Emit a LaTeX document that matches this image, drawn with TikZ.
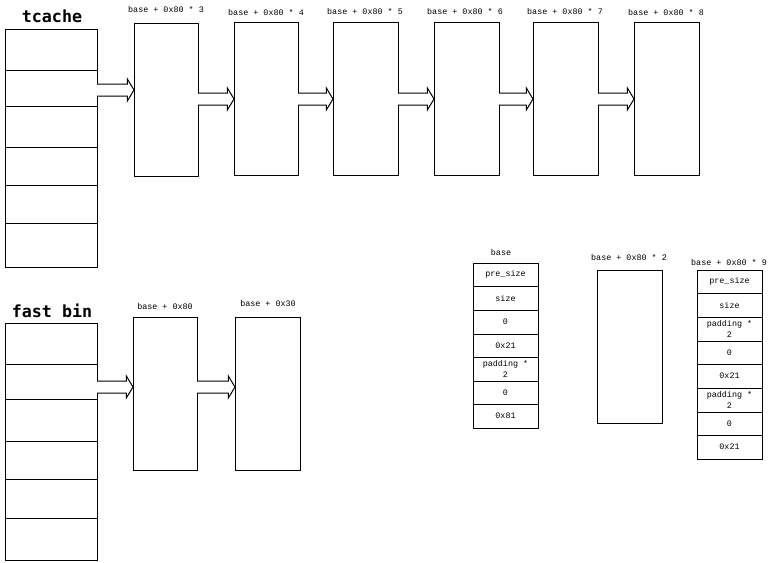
\documentclass[tikz,border=0pt]{standalone}
\usepackage{fontspec}
\setmonofont{Liberation Mono}
\newfontfamily\titlefont{DejaVu Sans Mono}
\usetikzlibrary{calc}
\tikzset{
  box/.style={draw, line width=0.75pt, inner sep=0pt, outer sep=0pt, align=center,
              font=\ttfamily\fontsize{6.3}{8.25}\selectfont},
  lbl/.style={inner sep=0pt, font=\ttfamily\fontsize{6.3}{8.25}\selectfont},
  ttl/.style={inner sep=0pt, font=\titlefont\bfseries\fontsize{12.5}{14}\selectfont},
  blk/.style={draw, line width=0.75pt, fill=white},
}
% \cell{name}{x1}{y1}{x2}{y2}{text}  (pixel coordinates)
\newcommand\cell[6]{%
  \node[box, minimum width={(#4-#2)*0.75pt}, minimum height={(#5-#3)*0.75pt}]
    (#1) at ({(#2+#4)/2},{(#3+#5)/2}) {#6};}
\newcommand\blockarr[3]{%
  \coordinate (ylev) at (0,#3);
  \draw[blk] let \p1=(#1.east|-ylev), \p2=(#2.west|-ylev) in
    (\x1,\y1+4.5pt) -- (\x2-5pt,\y1+4.5pt) -- (\x2-5pt,\y1+8.25pt) -- (\x2,\y1)
    -- (\x2-5pt,\y1-8.25pt) -- (\x2-5pt,\y1-4.5pt) -- (\x1,\y1-4.5pt);}
\begin{document}
\begin{tikzpicture}[x=0.75pt,y=-0.75pt]
\useasboundingbox (0,0) rectangle (773,562);

% ---------- tcache ----------
\node[ttl] (tctitle) at (52,16) {tcache};
\cell{tc1}{5}{29}{97}{70}{}
\cell{tc2}{5}{70}{97}{106}{}
\cell{tc3}{5}{106}{97}{147}{}
\cell{tc4}{5}{147}{97}{185}{}
\cell{tc5}{5}{185}{97}{223}{}
\cell{tc6}{5}{223}{97}{267}{}

\cell{c3}{134}{23}{198}{176}{}
\cell{c4}{234}{22}{298}{175}{}
\cell{c5}{333}{22}{398}{175}{}
\cell{c6}{434}{22}{499}{175}{}
\cell{c7}{533}{22}{598}{175}{}
\cell{c8}{634}{22}{699}{175}{}

\node[lbl] (l3) at (166,9)  {base + 0x80 * 3};
\node[lbl] (l4) at (266,12) {base + 0x80 * 4};
\node[lbl] (l5) at (365,11) {base + 0x80 * 5};
\node[lbl] (l6) at (465,11) {base + 0x80 * 6};
\node[lbl] (l7) at (565,11) {base + 0x80 * 7};
\node[lbl] (l8) at (666,12) {base + 0x80 * 8};

\blockarr{tc2}{c3}{90}
\blockarr{c3}{c4}{99}
\blockarr{c4}{c5}{99}
\blockarr{c5}{c6}{99}
\blockarr{c6}{c7}{99}
\blockarr{c7}{c8}{99}

% ---------- fast bin ----------
\node[ttl] (fbtitle) at (52,311) {fast bin};
\cell{fb1}{5}{323}{97}{364}{}
\cell{fb2}{5}{364}{97}{399}{}
\cell{fb3}{5}{399}{97}{441}{}
\cell{fb4}{5}{441}{97}{479}{}
\cell{fb5}{5}{479}{97}{518}{}
\cell{fb6}{5}{518}{97}{560}{}

\cell{f80}{133}{317}{197}{470}{}
\cell{f30}{235}{317}{300}{470}{}
\node[lbl] (lf80) at (165,306) {base + 0x80};
\node[lbl] (lf30) at (268,303) {base + 0x30};

\blockarr{fb2}{f80}{387}
\blockarr{f80}{f30}{387}

% ---------- base chunk ----------
\node[lbl] (lbase) at (501,252) {base};
\cell{b1}{473}{263}{538}{286}{pre\_size}
\cell{b2}{473}{286}{538}{310}{size}
\cell{b3}{473}{310}{538}{334}{0}
\cell{b4}{473}{334}{538}{357}{0x21}
\cell{b5}{473}{357}{538}{381}{padding *\\2}
\cell{b6}{473}{381}{538}{404}{0}
\cell{b7}{473}{404}{538}{428}{0x81}

% ---------- base + 0x80 * 2 ----------
\node[lbl] (lm2) at (629,257) {base + 0x80 * 2};
\cell{m2}{597}{270}{662}{423}{}

% ---------- base + 0x80 * 9 ----------
\node[lbl] (l9) at (729,262) {base + 0x80 * 9};
\cell{n1}{697}{270}{762}{293}{pre\_size}
\cell{n2}{697}{293}{762}{317}{size}
\cell{n3}{697}{317}{762}{341}{padding *\\2}
\cell{n4}{697}{341}{762}{364}{0}
\cell{n5}{697}{364}{762}{388}{0x21}
\cell{n6}{697}{388}{762}{412}{padding *\\2}
\cell{n7}{697}{412}{762}{435}{0}
\cell{n8}{697}{435}{762}{459}{0x21}
\end{tikzpicture}
\end{document}
